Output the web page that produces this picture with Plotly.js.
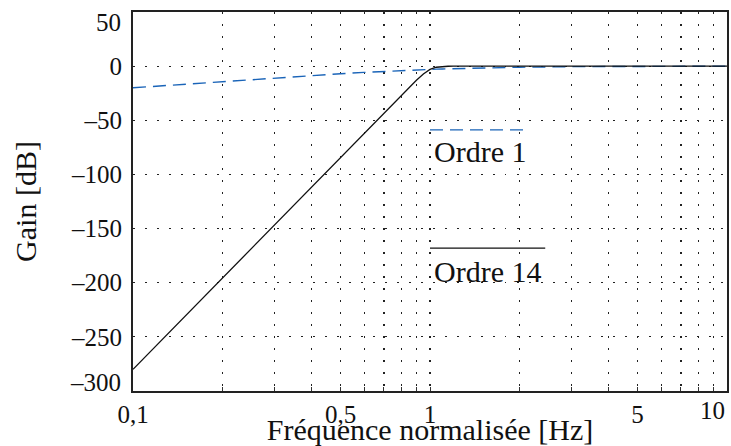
<!DOCTYPE html>
<html>
<head>
<meta charset="utf-8">
<script src="https://cdn.plot.ly/plotly-3.0.1.min.js"></script>
<style>html,body{margin:0;padding:0;background:#fff;}#chart{width:731px;height:446px;}</style>
</head>
<body>
<div id="chart"></div>
<script>
// Normalised frequency [Hz]
const freq = [0.1, 0.2, 0.3, 0.4, 0.5, 0.6, 0.7, 0.8, 0.85, 0.9, 0.95, 1, 1.05, 1.1, 1.15, 1.2, 1.3, 1.5, 2, 3, 5, 10];
// Gain [dB], order 1 (blue dashed)
const gainOrdre1 = [-20.0, -14.2, -10.8, -8.6, -7.0, -5.8, -4.8, -4.1, -3.8, -3.5, -3.2, -3.0, -2.8, -2.6, -2.45, -2.3, -2.0, -1.6, -1.0, -0.46, -0.17, -0.04];
// Gain [dB], order 14 (black)
const gainOrdre14 = [-280, -195.7, -146.4, -111.4, -84.3, -62.1, -43.4, -27.1, -19.8, -13.0, -7.2, -3.0, -1.0, -0.3, -0.09, -0.03, 0, 0, 0, 0, 0, 0];

const seriesNames = ['Ordre 1', 'Ordre 14'];

const xTickVals = [0.1, 0.2, 0.3, 0.4, 0.5, 0.6, 0.7, 0.8, 0.9, 1, 2, 3, 4, 5, 6, 7, 8, 9, 10];
const xTickText = ['0,1', '', '', '', '0,5', '', '', '', '', '1', '', '', '', '5', '', '', '', '', '10'];
const yTickVals = [-300, -250, -200, -150, -100, -50, 0, 50];
const yTickText = ['\u2013300', '\u2013250', '\u2013200', '\u2013150', '\u2013100', '\u201350', '0', '50'];

const FONT = 'Liberation Serif';
const BLUE = '#1a64b8';

// Edge labels are nudged inward (as in the reference) and drawn as annotations
const lastX = xTickVals.length - 1, lastY = yTickVals.length - 1;
const axisXText = xTickText.map((t, i) => i === lastX ? '' : t);
const axisYText = yTickText.map((t, i) => (i === 0 || i === lastY) ? '' : t);

const traces = [
  {x: freq, y: gainOrdre1, type: 'scatter', mode: 'lines', name: seriesNames[0],
   line: {color: BLUE, width: 1.4, dash: '13px,7px'}},
  {x: freq, y: gainOrdre14, type: 'scatter', mode: 'lines', name: seriesNames[1],
   line: {color: '#111', width: 1.3}}
];

const tickFont = {family: FONT, size: 25, color: '#111'};

const layout = {
  width: 731, height: 446,
  margin: {l: 133, r: 4, t: 12, b: 55},
  paper_bgcolor: '#fff', plot_bgcolor: '#fff',
  showlegend: false,
  font: {family: FONT, size: 25, color: '#111'},
  xaxis: {
    type: 'log', range: [-1, 1],
    tickmode: 'array', tickvals: xTickVals, ticktext: axisXText,
    ticks: 'inside', ticklen: 4, tickwidth: 1, tickcolor: '#333',
    ticklabeloverflow: 'allow',
    showgrid: true, gridcolor: '#222', gridwidth: 1.2, griddash: '1.5px,10.5px',
    showline: true, linecolor: '#222', linewidth: 2, mirror: true,
    zeroline: false,
    tickfont: tickFont,
    title: {text: 'Fréquence normalisée [Hz]', font: {family: FONT, size: 30, color: '#111'}, standoff: 4},
    automargin: false
  },
  yaxis: {
    range: [-300, 50],
    tickmode: 'array', tickvals: yTickVals, ticktext: axisYText,
    ticks: '',
    ticklabeloverflow: 'allow',
    ticklabelstandoff: 4,
    showgrid: true, gridcolor: '#222', gridwidth: 1.2, griddash: '1.5px,10.5px',
    showline: true, linecolor: '#222', linewidth: 2, mirror: true,
    zeroline: false,
    tickfont: tickFont,
    title: {text: 'Gain [dB]', font: {family: FONT, size: 30, color: '#111'}, standoff: 26},
    automargin: false
  },
  shapes: [
    {type: 'line', xref: 'paper', yref: 'paper', x0: 0.5, x1: 0.663, y0: 0.689, y1: 0.689,
     line: {color: BLUE, width: 1.4, dash: '13px,7px'}},
    {type: 'line', xref: 'paper', yref: 'paper', x0: 0.5, x1: 0.694, y0: 0.377, y1: 0.377,
     line: {color: '#111', width: 1.3}}
  ],
  annotations: [
    {xref: 'paper', yref: 'paper', x: 0.503, y: 0.633, xanchor: 'left', yanchor: 'middle',
     text: seriesNames[0], showarrow: false, font: {family: FONT, size: 30, color: '#111'}},
    {xref: 'paper', yref: 'paper', x: 0.503, y: 0.316, xanchor: 'left', yanchor: 'middle',
     text: seriesNames[1], showarrow: false, font: {family: FONT, size: 30, color: '#111'}},
    // x edge label (10), shifted left to stay inside the picture
    {xref: 'paper', yref: 'paper', x: 1.0, y: 0, xanchor: 'right', yanchor: 'top', yshift: -4,
     text: xTickText[lastX], showarrow: false, font: tickFont},
    // y edge labels (50 and -300), nudged inward
    {xref: 'paper', yref: 'y', x: 0, y: yTickVals[lastY], xanchor: 'right', yanchor: 'middle', xshift: -10, yshift: -10,
     text: yTickText[lastY], showarrow: false, font: tickFont},
    {xref: 'paper', yref: 'y', x: 0, y: yTickVals[0], xanchor: 'right', yanchor: 'middle', xshift: -10, yshift: 9,
     text: yTickText[0], showarrow: false, font: tickFont}
  ]
};

Plotly.newPlot('chart', traces, layout, {displayModeBar: false, staticPlot: true});
</script>
</body>
</html>
